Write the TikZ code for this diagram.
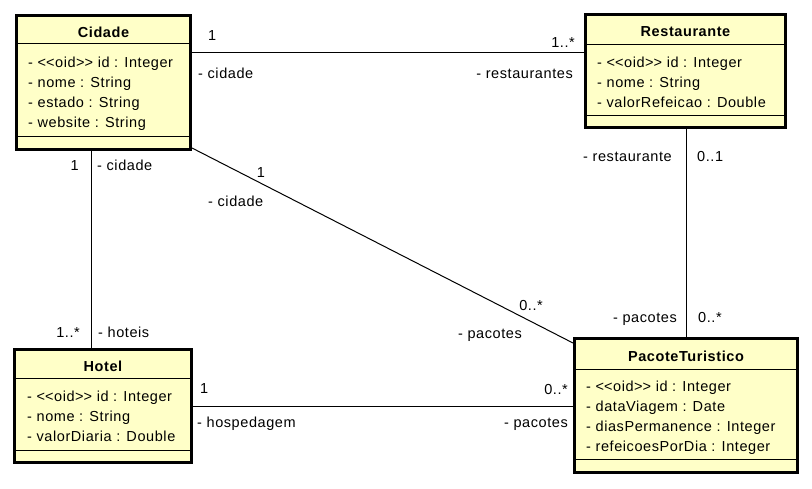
\documentclass[tikz,border=0pt]{standalone}
\usepackage{fontspec}
\setmainfont{Liberation Sans}[LetterSpace=4]
\definecolor{umlfill}{HTML}{FFFFC8}
\begin{document}
\begin{tikzpicture}[x=1pt,y=-1pt,
  umlbox/.style={draw=black, line width=3pt, fill=umlfill, inner sep=0pt},
  sep/.style={draw=black, line width=1pt},
  conn/.style={draw=black, line width=1pt},
  title/.style={anchor=base, inner sep=0pt, font=\fontsize{14.5}{17}\selectfont\bfseries},
  attr/.style={anchor=base west, inner sep=0pt, font=\fontsize{14.5}{17}\selectfont},
  lblw/.style={anchor=base west, inner sep=0pt, font=\fontsize{14.5}{17}\selectfont},
  lble/.style={anchor=base east, inner sep=0pt, font=\fontsize{14.5}{17}\selectfont},
  lblc/.style={anchor=base, inner sep=0pt, font=\fontsize{14.5}{17}\selectfont}]
\useasboundingbox[fill=white] (0,0) rectangle (812,488);

% boxes
\node[umlbox, minimum width=174pt, minimum height=134pt] (cidade) at (103.5,82.5) {};
\node[umlbox, minimum width=200pt, minimum height=113pt] (rest) at (685.5,71) {};
\node[umlbox, minimum width=223pt, minimum height=134pt] (pac) at (686,405.5) {};
\node[umlbox, minimum width=177pt, minimum height=113pt] (hotel) at (103,406) {};

% separators
\draw[sep] (cidade.west |- 0,43) -- (cidade.east |- 0,43);
\draw[sep] (cidade.west |- 0,136) -- (cidade.east |- 0,136);
\draw[sep] (rest.west |- 0,44) -- (rest.east |- 0,44);
\draw[sep] (rest.west |- 0,115) -- (rest.east |- 0,115);
\draw[sep] (pac.west |- 0,369) -- (pac.east |- 0,369);
\draw[sep] (pac.west |- 0,459) -- (pac.east |- 0,459);
\draw[sep] (hotel.west |- 0,378) -- (hotel.east |- 0,378);
\draw[sep] (hotel.west |- 0,450) -- (hotel.east |- 0,450);

% box texts
\node[title] (cidadeT) at (103.5,37) {Cidade};
\node[attr] (cidadeA1) at (28,67) {- <\kern0pt<oid>\kern0pt> id : Integer};
\node[attr] (cidadeA2) at (28,87) {- nome : String};
\node[attr] (cidadeA3) at (28,107) {- estado : String};
\node[attr] (cidadeA4) at (28,127) {- website : String};

\node[title] (restT) at (685.5,36) {Restaurante};
\node[attr] (restA1) at (597,67) {- <\kern0pt<oid>\kern0pt> id : Integer};
\node[attr] (restA2) at (597,87) {- nome : String};
\node[attr] (restA3) at (597,107) {- valorRefeicao : Double};

\node[title] (pacT) at (686,361) {PacoteTuristico};
\node[attr] (pacA1) at (586,391) {- <\kern0pt<oid>\kern0pt> id : Integer};
\node[attr] (pacA2) at (586,411) {- dataViagem : Date};
\node[attr] (pacA3) at (586,431) {- diasPermanence : Integer};
\node[attr] (pacA4) at (586,451) {- refeicoesPorDia : Integer};

\node[title] (hotelT) at (103,371) {Hotel};
\node[attr] (hotelA1) at (27,401) {- <\kern0pt<oid>\kern0pt> id : Integer};
\node[attr] (hotelA2) at (27,421) {- nome : String};
\node[attr] (hotelA3) at (27,441) {- valorDiaria : Double};

% connectors
\draw[conn] (cidade.east |- 0,52) -- (rest.west |- 0,52);
\draw[conn] (cidade.south -| 91,0) -- (hotel.north -| 91,0);
\draw[conn] (cidade.east |- 0,148) -- (pac.west |- 0,343);
\draw[conn] (rest.south -| 686,0) -- (pac.north -| 686,0);
\draw[conn] (hotel.east |- 0,406) -- (pac.west |- 0,406);

% connector labels
\node[lblw] (l1) at (208,40) {1};
\node[lblw] (l2) at (198,78) {- cidade};
\node[lble] (l3) at (575,47) {1..*};
\node[lble] (l4) at (573,78) {- restaurantes};

\node[lble] (l5) at (79,170) {1};
\node[lblw] (l6) at (97,170) {- cidade};
\node[lble] (l7) at (80,337) {1..*};
\node[lblw] (l8) at (98,337) {- hoteis};

\node[lblc] (l9) at (261,177) {1};
\node[lblw] (l10) at (208,206) {- cidade};
\node[lble] (l11) at (543,310) {0..*};
\node[lble] (l12) at (522,338) {- pacotes};

\node[lble] (l13) at (672,161) {- restaurante};
\node[lblw] (l14) at (697,161) {0..1};
\node[lble] (l15) at (677,322) {- pacotes};
\node[lblw] (l16) at (698,322) {0..*};

\node[lblw] (l17) at (200,393) {1};
\node[lblw] (l18) at (197,427) {- hospedagem};
\node[lble] (l19) at (568,394) {0..*};
\node[lble] (l20) at (568,427) {- pacotes};
\end{tikzpicture}
\end{document}
